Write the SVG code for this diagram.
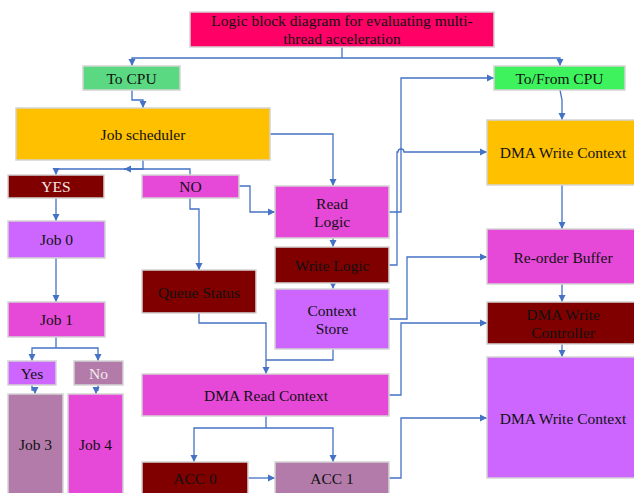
<svg xmlns="http://www.w3.org/2000/svg" width="634" height="493" viewBox="0 0 634 493">
<style>
.b{stroke:#D4D4D4;stroke-width:1.5}
.t{font-family:"Liberation Serif","Times New Roman",serif;font-size:15.5px;fill:#111;text-anchor:middle}
.w{fill:#F4EAEA}
.c{fill:none;stroke:#4472C4;stroke-width:1.3;marker-end:url(#a)}
.n{fill:none;stroke:#4472C4;stroke-width:1.3}
.pk{fill:#FF0066}.or{fill:#FFC000}.g1{fill:#5AD982}.g2{fill:#3EF25E}.dr{fill:#800000}.mg{fill:#E648D8}.vi{fill:#CC66FF}.mv{fill:#B27BAA}
</style>
<defs>
<marker id="a" markerWidth="8" markerHeight="8" refX="7" refY="4" orient="auto" markerUnits="userSpaceOnUse">
<path d="M0,0.5 L7,4 L0,7.5 z" fill="#4472C4"/>
</marker>
</defs>
<g id="connectors">
<path class="n" d="M342,47 V58"/>
<path class="c" d="M342,58 H132 V66"/>
<path class="c" d="M342,58 H560 V66"/>
<path class="c" d="M132,90 V100 H143 V108"/>
<path class="c" d="M270,134 H333 V186"/>
<path class="c" d="M143,160 V169 H56 V175"/>
<path class="c" d="M190,175 V169 H124"/>
<path class="c" d="M239,186 H250 V212 H275"/>
<path class="c" d="M190,198 V209 H199 V270"/>
<path class="c" d="M56,198 V221"/>
<path class="c" d="M56,258 V302"/>
<path class="n" d="M56,322 V348"/>
<path class="c" d="M56,348 H32 V361"/>
<path class="c" d="M56,348 H98 V361"/>
<path class="c" d="M32,385 V390 H35 V394"/>
<path class="c" d="M98,385 V390 H96 V394"/>
<path class="c" d="M333,238 V247"/>
<path class="c" d="M333,283 V289"/>
<path class="n" d="M333,349 V360 H266"/>
<path class="c" d="M199,313 V323 H266 V374"/>
<path class="n" d="M266,395 V428"/>
<path class="c" d="M266,428 H194 V462"/>
<path class="c" d="M266,428 H333 V462"/>
<path class="c" d="M248,478 H275"/>
<path class="c" d="M389,478 H401 V418 H487"/>
<path class="c" d="M389,395 H401 V323 H487"/>
<path class="c" d="M389,319 H407 V257 H487"/>
<path class="c" d="M389,212 H401 V78 H494"/>
<path class="c" d="M389,265 H397 V152 H398 A3,3 0 0 1 404,152 H487"/>
<path class="c" d="M560,90 L562,100 V120"/>
<path class="c" d="M562,185 V229"/>
<path class="c" d="M562,284 V302"/>
<path class="c" d="M562,344 V357"/>
</g>
<g id="title"><rect class="b pk" x="190" y="12" width="304" height="35"/><text class="t" x="342" y="26">Logic block diagram for evaluating multi-</text><text class="t" x="342" y="44">thread acceleration</text></g>
<g id="tocpu"><rect class="b g1" x="83" y="66" width="97" height="24"/><text class="t" x="131.5" y="83.5">To CPU</text></g>
<g id="tofromcpu"><rect class="b g2" x="494" y="66" width="131" height="24"/><text class="t" x="559.5" y="83.5">To/From CPU</text></g>
<g id="jobsched"><rect class="b or" x="16" y="108" width="254" height="52"/><text class="t" x="143" y="139.5">Job scheduler</text></g>
<g id="yes"><rect class="b dr" x="8" y="175" width="96" height="23"/><text class="t w" x="56" y="191.5">YES</text></g>
<g id="no"><rect class="b mg" x="142" y="175" width="97" height="23"/><text class="t" x="190.5" y="191.5">NO</text></g>
<g id="readlogic"><rect class="b mg" x="275" y="186" width="114" height="52"/><text class="t" x="332" y="208.5">Read</text><text class="t" x="332" y="226.5">Logic</text></g>
<g id="writelogic"><rect class="b dr" x="275" y="247" width="114" height="36"/><text class="t" x="332" y="270.5">Write Logic</text></g>
<g id="contextstore"><rect class="b vi" x="275" y="289" width="114" height="60"/><text class="t" x="332" y="315.5">Context</text><text class="t" x="332" y="333.5">Store</text></g>
<g id="job0"><rect class="b vi" x="8" y="221" width="97" height="37"/><text class="t" x="56.5" y="244.5">Job 0</text></g>
<g id="queuestatus"><rect class="b dr" x="142" y="270" width="114" height="43"/><text class="t" x="199" y="297.5">Queue Status</text></g>
<g id="job1"><rect class="b mg" x="8" y="302" width="97" height="35"/><text class="t" x="56.5" y="324.5">Job 1</text></g>
<g id="yes2"><rect class="b vi" x="8" y="361" width="48" height="24"/><text class="t" x="32" y="378.5">Yes</text></g>
<g id="no2"><rect class="b mv" x="74" y="361" width="49" height="24"/><text class="t w" x="98.5" y="378.5">No</text></g>
<g id="job3"><rect class="b mv" x="8" y="394" width="55" height="101"/><text class="t" x="35.5" y="449.5">Job 3</text></g>
<g id="job4"><rect class="b mg" x="68" y="394" width="55" height="101"/><text class="t" x="95.5" y="449.5">Job 4</text></g>
<g id="dmaread"><rect class="b mg" x="142" y="374" width="247" height="42"/><text class="t" x="266" y="400.5">DMA Read Context</text></g>
<g id="acc0"><rect class="b dr" x="142" y="462" width="106" height="33"/><text class="t" x="195" y="483.5">ACC 0</text></g>
<g id="acc1"><rect class="b mv" x="275" y="462" width="114" height="33"/><text class="t" x="332" y="483.5">ACC 1</text></g>
<g id="dmawrite1"><rect class="b or" x="487" y="120" width="149" height="65"/><text class="t" x="563" y="157.5">DMA Write Context</text></g>
<g id="reorder"><rect class="b mg" x="487" y="229" width="149" height="55"/><text class="t" x="563" y="262.5">Re-order Buffer</text></g>
<g id="dmawritectrl"><rect class="b dr" x="487" y="302" width="149" height="42"/><text class="t" x="563" y="319.5">DMA Write</text><text class="t" x="563" y="337.5">Controller</text></g>
<g id="dmawrite2"><rect class="b vi" x="487" y="357" width="149" height="121"/><text class="t" x="563" y="423.5">DMA Write Context</text></g>
</svg>
